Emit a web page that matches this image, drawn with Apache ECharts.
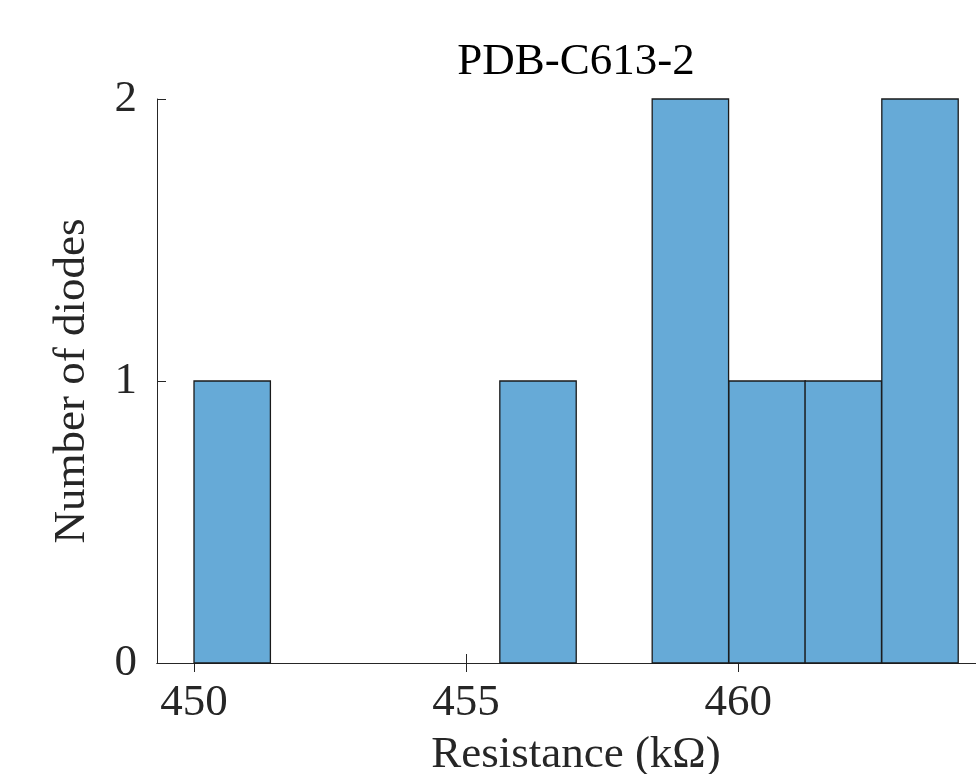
<!DOCTYPE html>
<html>
<head>
<meta charset="utf-8">
<script src="https://cdn.jsdelivr.net/npm/echarts@6/dist/echarts.min.js"></script>
<style>html,body{margin:0;padding:0;background:#fff}#c{width:976px;height:774px}</style>
</head>
<body>
<div id="c"></div>
<script>
// Histogram bins (kΩ): start of each bin, common width, and counts
const binStarts = [450.00, 451.40, 452.81, 454.21, 455.62, 457.02, 458.42, 459.83, 461.23, 462.64];
const binWidth = 1.404;
const counts = [1, 0, 0, 0, 1, 0, 2, 1, 1, 2];
const xTicks = [450, 455, 460];
const yTicks = [0, 1, 2];
const xRange = [449.32, 464.72];
const yRange = [0, 2];
const titleText = 'PDB-C613-2';
const xLabel = 'Resistance (kΩ)';
const yLabel = 'Number of diodes';

const FONT = 'Liberation Serif';
const TXT = '#262626';
const FS = 45;

const data = binStarts.map((s, i) => [s, s + binWidth, counts[i]]);

const chart = echarts.init(document.getElementById('c'), null, {renderer: 'canvas'});
const axisLine = {show: true, lineStyle: {color: TXT, width: 1}};
chart.setOption({
  animation: false,
  backgroundColor: '#fff',
  grid: {left: 157, top: 99, width: 838, height: 564, containLabel: false, outerBoundsMode: 'none'},
  xAxis: [{
    type: 'value', min: xRange[0], max: xRange[1], position: 'bottom',
    axisLine: axisLine,
    axisTick: {show: true, inside: true, length: 9, customValues: xTicks, lineStyle: {color: TXT}},
    axisLabel: {customValues: xTicks, fontFamily: FONT, fontSize: FS, color: TXT, margin: 18},
    splitLine: {show: false},
    name: xLabel, nameLocation: 'middle', nameGap: 70,
    nameTextStyle: {fontFamily: FONT, fontSize: FS, color: TXT}
  }, {
    type: 'value', min: xRange[0], max: xRange[1], position: 'top',
    axisLine: axisLine,
    axisTick: {show: true, inside: true, length: 9, customValues: xTicks, lineStyle: {color: TXT}},
    axisLabel: {show: false}, splitLine: {show: false},
    name: titleText, nameLocation: 'middle', nameGap: 14,
    nameTextStyle: {fontFamily: FONT, fontSize: FS, color: '#000'}
  }],
  yAxis: [{
    type: 'value', min: yRange[0], max: yRange[1], interval: 1, position: 'left',
    axisLine: axisLine,
    axisTick: {show: true, inside: true, length: 9, lineStyle: {color: TXT}},
    axisLabel: {fontFamily: FONT, fontSize: FS, color: TXT, margin: 20},
    splitLine: {show: false},
    name: yLabel, nameLocation: 'middle', nameGap: 62, nameRotate: 90,
    nameTextStyle: {fontFamily: FONT, fontSize: FS, color: TXT}
  }, {
    type: 'value', min: yRange[0], max: yRange[1], interval: 1, position: 'right',
    axisLine: axisLine,
    axisTick: {show: true, inside: true, length: 9, lineStyle: {color: TXT}},
    axisLabel: {show: false}, splitLine: {show: false}
  }],
  series: [{
    type: 'custom',
    xAxisIndex: 0, yAxisIndex: 0,
    data: data,
    encode: {x: [0, 1], y: 2},
    renderItem: function (params, api) {
      const h = api.value(2);
      if (!h) return null;
      const p0 = api.coord([api.value(0), 0]);
      const p1 = api.coord([api.value(1), h]);
      return {
        type: 'rect',
        shape: {x: p0[0], y: p1[1], width: p1[0] - p0[0], height: p0[1] - p1[1]},
        style: {fill: '#66aad7', stroke: '#1a1a1a', lineWidth: 1.3}
      };
    }
  }]
});
</script>
</body>
</html>
